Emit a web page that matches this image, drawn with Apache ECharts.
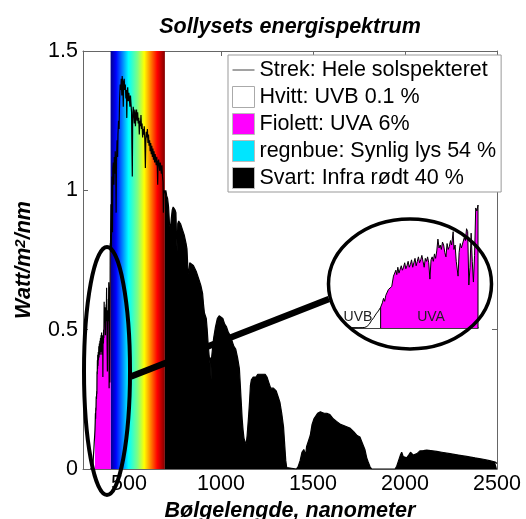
<!DOCTYPE html>
<html>
<head>
<meta charset="utf-8">
<script src="https://cdn.jsdelivr.net/npm/echarts@6/dist/echarts.min.js"></script>
<style>
  html, body { margin: 0; padding: 0; background: #fff; }
  #chart { width: 526px; height: 519px; }
</style>
</head>
<body>
<div id="chart"></div>
<script>
// Solar spectral irradiance at ground level (W/m²/nm), split into wavelength bands.

// Ultraviolet part, 290–400 nm
const uvWave = [290, 293, 296, 299, 301, 303, 305, 307, 309, 311, 313, 315,
  316.5, 317.5, 318.5, 319.5, 320.5, 321.8, 323, 324.7, 325.5, 326.2, 327.5, 328.3, 329.1,
  330, 331, 332, 333, 334, 335, 336, 337, 338, 339, 340, 341, 342, 343, 344, 345, 346, 347,
  348, 349, 350, 351, 352, 353, 354, 355, 356, 357, 358, 359, 360, 361, 362, 363, 364, 365,
  366, 367, 368, 369, 370, 371, 372, 373, 374, 375, 376, 377, 378.3, 379, 380, 381, 382.6,
  383.5, 384.5, 385.5, 387, 388, 389, 390, 391, 392, 393, 394, 395, 396, 397, 398, 399, 400];
const uvPower = [0, 0, 0.001, 0.002, 0.004, 0.01, 0.025, 0.05, 0.07, 0.095, 0.115, 0.14,
  0.17, 0.2, 0.18, 0.22, 0.21, 0.26, 0.25, 0.28, 0.27, 0.35, 0.34, 0.39, 0.36,
  0.41, 0.37, 0.38, 0.42, 0.39, 0.41, 0.44, 0.40, 0.42, 0.45, 0.41, 0.43, 0.46, 0.41, 0.44, 0.47, 0.42, 0.45,
  0.48, 0.44, 0.46, 0.49, 0.45, 0.41, 0.47, 0.45, 0.48, 0.44, 0.33, 0.46, 0.48, 0.45, 0.50, 0.47, 0.52, 0.60,
  0.54, 0.56, 0.53, 0.58, 0.56, 0.51, 0.48, 0.57, 0.53, 0.55, 0.59, 0.56, 0.65, 0.53, 0.56, 0.45, 0.35,
  0.51, 0.57, 0.54, 0.53, 0.61, 0.59, 0.67, 0.65, 0.29, 0.41, 0.64, 0.45, 0.31, 0.49, 0.81, 0.79, 0.83];

// Visible part, 402–692 nm
const visWave = [402, 404, 406, 408, 410, 412, 415, 418, 420, 423, 425, 428, 430, 432, 435, 438,
  440, 443, 446, 449, 452, 455, 458, 461, 463, 466, 469, 471, 474, 477, 480, 483, 486, 488, 490,
  493, 496, 499, 502, 505, 508, 511, 514, 516, 518, 520, 523, 526, 529, 532, 535, 538, 541, 544,
  547, 550, 553, 556, 559, 562, 565, 568, 571, 574, 577, 580, 583, 586, 589, 591, 594, 597, 600,
  603, 606, 609, 612, 615, 618, 621, 624, 627, 630, 633, 636, 639, 642, 645, 648, 651, 654, 656,
  658, 661, 664, 667, 670, 673, 676, 679, 682, 685, 687, 689, 692];
const visPower = [0.95, 0.78, 1.0, 1.05, 0.85, 1.08, 1.1, 1.02, 1.12, 1.06, 1.14, 1.08, 0.92, 1.1, 1.18, 1.12,
  1.2, 1.25, 1.22, 1.33, 1.38, 1.36, 1.40, 1.34, 1.41, 1.38, 1.30, 1.39, 1.40, 1.36, 1.38, 1.33, 1.36, 1.26, 1.35,
  1.37, 1.32, 1.35, 1.33, 1.30, 1.34, 1.31, 1.28, 1.15, 1.05, 1.26, 1.30, 1.27, 1.24, 1.29, 1.23, 1.27, 1.29, 1.25,
  1.28, 1.24, 1.26, 1.20, 1.25, 1.23, 1.27, 1.22, 1.24, 1.19, 1.22, 1.20, 1.23, 1.18, 1.08, 1.17, 1.21, 1.19, 1.22,
  1.17, 1.20, 1.16, 1.18, 1.14, 1.17, 1.13, 1.16, 1.12, 1.15, 1.11, 1.14, 1.10, 1.13, 1.11, 1.09, 1.12, 1.08, 1.02,
  1.10, 1.11, 1.09, 1.07, 1.10, 1.08, 1.06, 1.09, 1.05, 1.03, 0.92, 0.98, 1.0];

// Infrared part, 695–2500 nm
const irWave = [695, 700, 705, 710, 715, 720, 725, 730, 735, 740, 745, 750, 755, 758, 762, 765, 770,
  780, 790, 800, 810, 815, 820, 825, 830, 840, 850, 860, 865, 870, 880, 890, 900, 905, 910, 915,
  920, 925, 930, 935, 940, 943, 946, 949, 955, 960, 970, 980, 990, 1000, 1010, 1020, 1030, 1040,
  1050, 1060, 1070, 1080, 1090, 1100, 1105, 1110, 1115, 1120, 1125, 1130, 1137, 1142, 1150, 1155,
  1160, 1165, 1175, 1190, 1200, 1220, 1240, 1250, 1260, 1270, 1285, 1300, 1310, 1320, 1330, 1340,
  1347, 1352, 1357, 1360, 1410, 1420, 1430, 1440, 1450, 1460, 1465, 1475, 1485, 1495, 1505, 1515,
  1525, 1540, 1560, 1575, 1592, 1610, 1630, 1650, 1670, 1700, 1720, 1740, 1755, 1770, 1782, 1792,
  1800, 1810, 1819, 1946, 1955, 1965, 1975, 1982, 1990, 2000, 2009, 2020, 2030, 2036, 2045, 2054,
  2065, 2081, 2100, 2118, 2140, 2172, 2200, 2245, 2290, 2335, 2380, 2426, 2460, 2490, 2500];
const irPower = [0.99, 1.0, 0.98, 0.97, 0.94, 0.88, 0.86, 0.90, 0.93, 0.94, 0.94, 0.93, 0.92, 0.84, 0.78, 0.88, 0.89,
  0.88, 0.86, 0.84, 0.81, 0.79, 0.72, 0.70, 0.74, 0.74, 0.73, 0.73, 0.71, 0.70, 0.68, 0.66, 0.63, 0.59, 0.56, 0.56,
  0.54, 0.50, 0.45, 0.41, 0.38, 0.40, 0.32, 0.40, 0.44, 0.47, 0.51, 0.54, 0.55, 0.55, 0.54, 0.52, 0.51, 0.49,
  0.48, 0.46, 0.44, 0.43, 0.40, 0.36, 0.30, 0.24, 0.18, 0.14, 0.11, 0.10, 0.09, 0.12, 0.19, 0.24,
  0.30, 0.32, 0.33, 0.33, 0.34, 0.34, 0.34, 0.33, 0.31, 0.29, 0.29, 0.28, 0.26, 0.24, 0.20, 0.15,
  0.08, 0.03, 0.005, 0, 0, 0.01, 0.03, 0.06, 0.07, 0.05, 0.08, 0.08, 0.12, 0.16, 0.18, 0.19,
  0.20, 0.205, 0.20, 0.20, 0.195, 0.18, 0.17, 0.16, 0.155, 0.147, 0.135, 0.12, 0.115, 0.09, 0.07, 0.04,
  0.025, 0.008, 0, 0, 0.01, 0.03, 0.05, 0.06, 0.045, 0.04, 0.04, 0.05, 0.06, 0.062, 0.05, 0.045,
  0.055, 0.065, 0.066, 0.068, 0.066, 0.063, 0.06, 0.055, 0.05, 0.045, 0.04, 0.035, 0.03, 0.025, 0.02];

// Band limits (nm)
const uvbEnd = 315;
const visBand = [400, 695];

// Axis ticks
const xTicks = [500, 1000, 1500, 2000, 2500];
const yTicks = [0, 0.5, 1, 1.5];

// Legend texts
const nameLine = 'Strek: Hele solspekteret';
const nameUVB = 'Hvitt: UVB 0.1 %';
const nameUVA = 'Fiolett: UVA 6%';
const nameVis = 'regnbue: Synlig lys 54 %';
const nameIR = 'Svart: Infra rødt 40 %';

const FONT = '"Liberation Sans", Arial, sans-serif';
const FS = 21.5;
const zip = (xs, ys) => xs.map((x, i) => [x, ys[i]]);

const uvPts = zip(uvWave, uvPower);
const visPts = zip(visWave, visPower);
const irPts = zip(irWave, irPower);
const allPts = uvPts.concat(visPts, irPts);
const uvbPts = uvPts.filter(p => p[0] <= uvbEnd);
const uvaCore = uvPts.filter(p => p[0] >= uvbEnd);
const uvaPts = [[uvbEnd, 0]].concat(uvaCore, [[visBand[0], 0]]);
const uvPeak = Math.max.apply(null, uvPower);

// jet-like colour ramp for the visible band
const rainbow = new echarts.graphic.LinearGradient(0, 0, 1, 0, [
  { offset: 0.00, color: '#00008c' },
  { offset: 0.10, color: '#0000ff' },
  { offset: 0.33, color: '#00ffff' },
  { offset: 0.50, color: '#80ff80' },
  { offset: 0.62, color: '#ffff00' },
  { offset: 0.86, color: '#ff0000' },
  { offset: 1.00, color: '#800000' }
]);

const axisGrey = '#666';
const tickStyle = { inside: true, length: 5, lineStyle: { color: axisGrey } };
const labelStyle = { fontSize: FS, color: '#000', fontFamily: FONT, formatter: v => String(v) };
const nameStyle = { fontSize: FS, fontWeight: 'bold', fontStyle: 'italic', color: '#000', fontFamily: FONT };

const chart = echarts.init(document.getElementById('chart'));

const areaSeries = (name, data, color, z) => ({
  name, type: 'line', xAxisIndex: 0, yAxisIndex: 0, data,
  symbol: 'none', showSymbol: false, silent: true, animation: false,
  lineStyle: { width: 0, opacity: 0 },
  itemStyle: { color },
  areaStyle: { color, opacity: 1 },
  emphasis: { disabled: true },
  z
});

chart.setOption({
  animation: false,
  backgroundColor: '#fff',
  title: {
    text: 'Sollysets energispektrum',
    left: 290, top: 16, textAlign: 'center', padding: 0,
    textStyle: nameStyle
  },
  grid: [
    { left: 83, right: 29, top: 51, bottom: 50, outerBoundsMode: 'none', containLabel: false },
    { left: 352, top: 205, width: 126, height: 123, outerBoundsMode: 'none', containLabel: false }
  ],
  xAxis: [
    {
      type: 'value', gridIndex: 0, position: 'bottom', min: 250, max: 2500,
      axisLine: { show: true, onZero: false, lineStyle: { color: axisGrey } },
      axisTick: Object.assign({ customValues: xTicks }, tickStyle),
      axisLabel: Object.assign({ customValues: xTicks, margin: 4 }, labelStyle),
      splitLine: { show: false },
      name: 'Bølgelengde, nanometer', nameLocation: 'middle', nameGap: 30,
      nameTextStyle: Object.assign({ verticalAlign: 'top' }, nameStyle)
    },
    {
      type: 'value', gridIndex: 0, position: 'top', min: 250, max: 2500,
      axisLine: { show: true, onZero: false, lineStyle: { color: axisGrey } },
      axisTick: Object.assign({ customValues: xTicks }, tickStyle),
      axisLabel: { show: false },
      splitLine: { show: false }
    },
    {
      type: 'value', gridIndex: 1, min: uvWave[0], max: visBand[0],
      axisLine: { show: true, onZero: false, lineStyle: { color: '#000', width: 1.5 } },
      axisTick: { show: false }, axisLabel: { show: false }, splitLine: { show: false }
    }
  ],
  yAxis: [
    {
      type: 'value', gridIndex: 0, position: 'left', min: yTicks[0], max: yTicks[yTicks.length - 1], interval: 0.5,
      axisLine: { show: true, onZero: false, lineStyle: { color: axisGrey } },
      axisTick: tickStyle,
      axisLabel: Object.assign({ margin: 5 }, labelStyle),
      splitLine: { show: false },
      name: 'Watt/m{s|2}/nm', nameLocation: 'middle', nameGap: 48, nameRotate: 90,
      nameTextStyle: Object.assign({
        rich: { s: { fontSize: 15, fontWeight: 'bold', fontStyle: 'italic', fontFamily: FONT, color: '#000', verticalAlign: 'top', lineHeight: 22 } }
      }, nameStyle)
    },
    {
      type: 'value', gridIndex: 0, position: 'right', min: yTicks[0], max: yTicks[yTicks.length - 1], interval: 0.5,
      axisLine: { show: true, onZero: false, lineStyle: { color: axisGrey } },
      axisTick: tickStyle,
      axisLabel: { show: false },
      splitLine: { show: false }
    },
    { type: 'value', gridIndex: 1, min: 0, max: uvPeak, show: false }
  ],
  legend: {
    orient: 'vertical', left: 228, top: 55,
    padding: [4, 5, 3, 4],
    itemWidth: 22, itemHeight: 21, itemGap: 5,
    borderColor: '#999', borderWidth: 1, backgroundColor: '#fff',
    selectedMode: false,
    textStyle: { fontSize: FS, color: '#000', fontFamily: FONT },
    data: [
      { name: nameLine, icon: 'path://M0,0 L60,0 L60,2 L0,2 Z', itemStyle: { color: '#000' } },
      { name: nameUVB, icon: 'rect', itemStyle: { color: '#fff', borderColor: '#aaa', borderWidth: 1 } },
      { name: nameUVA, icon: 'rect', itemStyle: { color: '#ff00ff', borderColor: '#bbb', borderWidth: 1 } },
      { name: nameVis, icon: 'rect', itemStyle: { color: '#00e5ff', borderColor: '#bbb', borderWidth: 1 } },
      { name: nameIR, icon: 'rect', itemStyle: { color: '#000', borderColor: '#bbb', borderWidth: 1 } }
    ]
  },
  series: [
    // visible band: coloured background strip, spectrum line drawn over it
    {
      name: nameVis, type: 'line', xAxisIndex: 0, yAxisIndex: 0, data: visPts,
      symbol: 'none', showSymbol: false, silent: true,
      lineStyle: { width: 0, opacity: 0 },
      itemStyle: { color: '#00e5ff' },
      emphasis: { disabled: true },
      z: 1,
      markArea: {
        silent: true,
        itemStyle: { color: rainbow, opacity: 1 },
        data: [[{ xAxis: visBand[0], yAxis: yTicks[0] }, { xAxis: visBand[1], yAxis: yTicks[yTicks.length - 1] }]]
      }
    },
    areaSeries(nameUVB, uvbPts, '#ffffff', 2),
    areaSeries(nameUVA, uvaPts, '#ff00ff', 2),
    areaSeries(nameIR, irPts, '#000000', 2),
    {
      name: nameLine, type: 'line', xAxisIndex: 0, yAxisIndex: 0, data: allPts,
      symbol: 'none', showSymbol: false, silent: true,
      lineStyle: { color: '#000', width: 1.2 },
      itemStyle: { color: '#000' },
      emphasis: { disabled: true },
      z: 3
    },
    // magnified ultraviolet inset
    {
      type: 'line', xAxisIndex: 2, yAxisIndex: 2, data: uvbPts,
      symbol: 'none', showSymbol: false, silent: true,
      lineStyle: { color: '#000', width: 1 },
      areaStyle: { color: '#fff', opacity: 1 },
      emphasis: { disabled: true }, z: 4
    },
    {
      type: 'line', xAxisIndex: 2, yAxisIndex: 2, data: uvaPts,
      symbol: 'none', showSymbol: false, silent: true,
      lineStyle: { color: '#000', width: 1 },
      areaStyle: { color: '#ff00ff', opacity: 1 },
      emphasis: { disabled: true }, z: 4
    }
  ],
  graphic: {
    elements: [
      { type: 'line', silent: true, z: 100, shape: { x1: 131, y1: 376.5, x2: 329, y2: 299 },
        style: { stroke: '#000', lineWidth: 6.5 } },
      { type: 'ellipse', silent: true, z: 100, shape: { cx: 107, cy: 371, rx: 23, ry: 124 },
        style: { fill: 'none', stroke: '#000', lineWidth: 4 } },
      { type: 'ellipse', silent: true, z: 100, shape: { cx: 410, cy: 284, rx: 81.5, ry: 65 },
        style: { fill: 'none', stroke: '#000', lineWidth: 3.5 } },
      { type: 'text', silent: true, z: 100, x: 358, y: 317,
        style: { text: 'UVB', font: '14px ' + FONT, fill: '#222', align: 'center', verticalAlign: 'middle' } },
      { type: 'text', silent: true, z: 100, x: 431, y: 317,
        style: { text: 'UVA', font: '14px ' + FONT, fill: '#222', align: 'center', verticalAlign: 'middle' } }
    ]
  }
});
</script>
</body>
</html>
